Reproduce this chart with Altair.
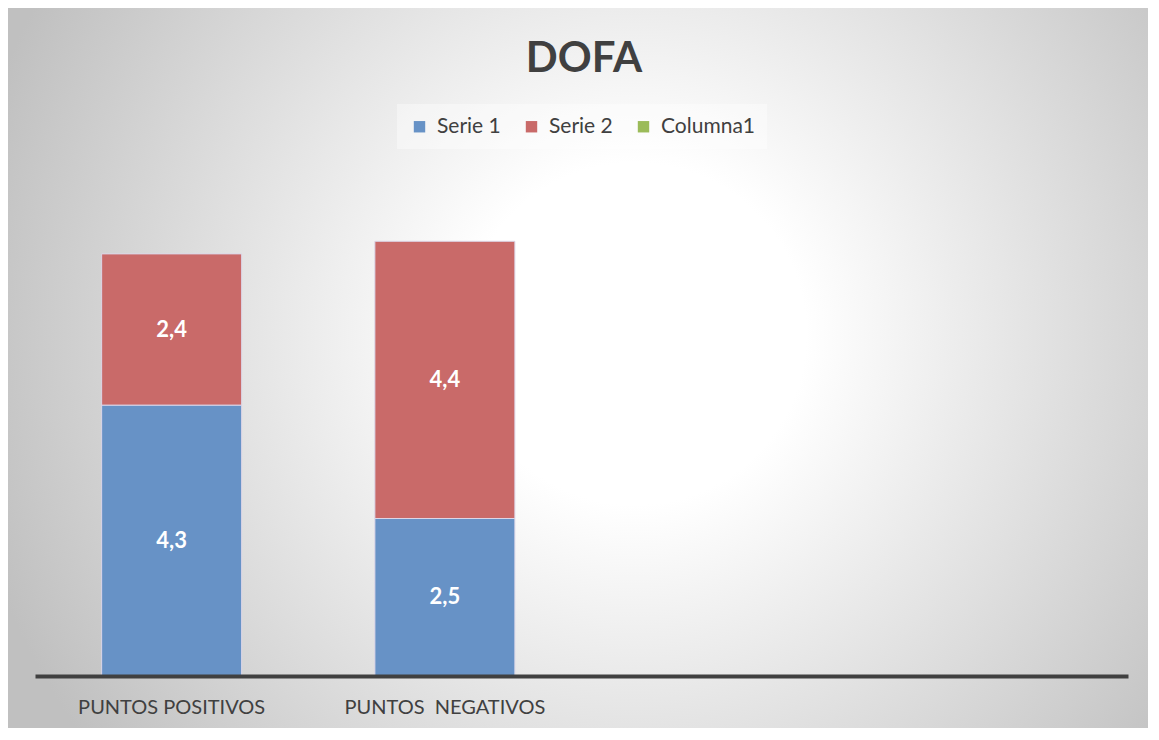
import altair as alt
import pandas as pd

titulo = "DOFA"
categorias = ["PUNTOS POSITIVOS", "PUNTOS\u00a0 NEGATIVOS", " ", "  "]
serie1 = [4.3, 2.5, None, None]
serie2 = [2.4, 4.4, None, None]
series = ["Serie 1", "Serie 2", "Columna1"]
colores = ["#6792c6", "#c96a69", "#9bbb59"]

rows = []
for i, c in enumerate(categorias):
    for s, vals in (("Serie 1", serie1), ("Serie 2", serie2)):
        v = vals[i]
        if v is not None:
            rows.append({"cat": c, "serie": s, "orden": series.index(s), "valor": v})
df = pd.DataFrame(rows)

W, H = 1093, 504
PAD = {"left": 27, "top": 164, "right": 20, "bottom": 52}
font = "Lato"
txt = "#404040"

xscale = alt.Scale(domain=categorias, paddingInner=0.4877, paddingOuter=0.2439)
yscale = alt.Scale(domain=[0, 8])
cscale = alt.Scale(domain=series, range=colores)

grad = {
    "gradient": "radial",
    "x1": 0.55, "y1": 0.47, "r1": 0,
    "x2": 0.55, "y2": 0.47, "r2": 0.6,
    "stops": [
        {"offset": 0, "color": "#ffffff"},
        {"offset": 0.25, "color": "#ffffff"},
        {"offset": 1, "color": "#c0c0c0"},
    ],
}

bg = alt.Chart(pd.DataFrame({"a": [0]})).mark_rect(fill=grad).encode(
    x=alt.value(-PAD["left"]), x2=alt.value(W + PAD["right"]),
    y=alt.value(-PAD["top"]), y2=alt.value(H + PAD["bottom"]),
)

base = alt.Chart(df).transform_stack(
    stack="valor", groupby=["cat"], as_=["y0", "y1"],
    sort=[alt.SortField("orden", order="ascending")],
).transform_calculate(
    mid="(datum.y0 + datum.y1) / 2",
    label="replace(format(datum.valor, '.1f'), '.', ',')",
)

xenc = alt.X(
    "cat:N", scale=xscale, sort=categorias,
    axis=alt.Axis(
        title=None, labelAngle=0, labelFont=font, labelFontSize=20,
        labelColor=txt, labelLimit=0, ticks=False, tickSize=0,
        domainColor="#404040", domainWidth=4, labelPadding=21, zindex=1,
        grid=False,
    ),
)

bars = base.mark_bar(stroke="#dcd6e8", strokeWidth=1).encode(
    x=xenc,
    y=alt.Y("y0:Q", scale=yscale, axis=None),
    y2="y1:Q",
    color=alt.Color(
        "serie:N", scale=cscale,
        legend=alt.Legend(
            orient="none", legendX=362, legendY=-68, direction="horizontal",
            title=None, symbolType="square", symbolSize=130,
            symbolStrokeWidth=0, labelFont=font, labelFontSize=21,
            labelColor=txt, columnPadding=20, labelOffset=7,
            fillColor="rgba(255,255,255,0.4)", padding=12,
        ),
    ),
)

labels = base.mark_text(
    color="white", font=font, fontWeight="bold", fontSize=22, baseline="middle"
).encode(x=xenc, y=alt.Y("mid:Q", scale=yscale, axis=None), text="label:N")

title_text = alt.Chart(pd.DataFrame({"t": [titulo]})).mark_text(
    font=font, fontWeight="bold", fontSize=42, color=txt,
    baseline="alphabetic", align="center",
).encode(x=alt.value(549), y=alt.value(-100), text="t:N")

chart = alt.layer(bg, bars, labels, title_text).properties(
    width=W, height=H,
    autosize=alt.AutoSizeParams(type="none"),
    padding=PAD,
).configure_view(stroke=None)

chart.save("out.html", embed_options={"renderer": "svg", "actions": False})
